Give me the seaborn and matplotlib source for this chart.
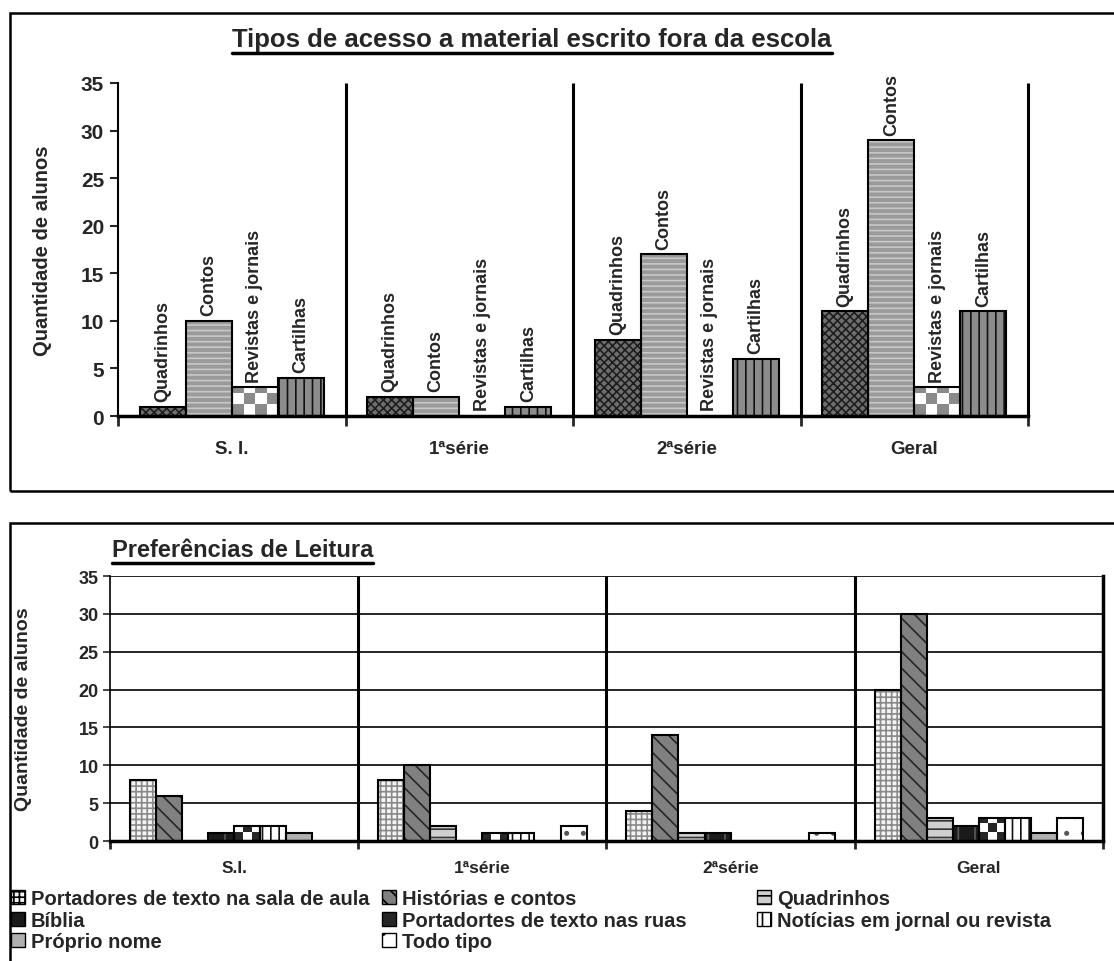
import numpy as np
import pandas as pd
import matplotlib
matplotlib.use('Agg')
import matplotlib.pyplot as plt
import seaborn as sns
from matplotlib.patches import Rectangle, Patch
from matplotlib.lines import Line2D
from matplotlib.colors import ListedColormap

# --- data ---
grupos_top = ['S. I.', '1ªsérie', '2ªsérie', 'Geral']
tipos_top = ['Quadrinhos', 'Contos', 'Revistas e jornais', 'Cartilhas']
quadrinhos_top = [1, 2, 8, 11]
contos_top = [10, 2, 17, 29]
revistas_top = [3, 0, 0, 3]
cartilhas_top = [4, 1, 6, 11]

grupos_bot = ['S.I.', '1ªsérie', '2ªsérie', 'Geral']
tipos_bot = ['Portadores de texto na sala de aula', 'Histórias e contos', 'Quadrinhos',
             'Bíblia', 'Portadortes de texto nas ruas', 'Notícias em jornal ou revista',
             'Próprio nome', 'Todo tipo']
portadores_sala = [8, 8, 4, 20]
historias = [6, 10, 14, 30]
quadrinhos_bot = [0, 2, 1, 3]
biblia = [1, 0, 1, 2]
portadores_ruas = [2, 1, 0, 3]
noticias = [2, 1, 0, 3]
proprio_nome = [1, 0, 0, 1]
todo_tipo = [0, 2, 1, 3]

sns.set_style('white')
plt.rcParams['font.family'] = ['Liberation Sans', 'DejaVu Sans']
plt.rcParams['font.weight'] = 'bold'
plt.rcParams['hatch.linewidth'] = 1.2

fig = plt.figure(figsize=(11.14, 9.62), dpi=100)


def long_table(grupos, tipos, series):
    rows = []
    for tipo, vals in zip(tipos, series):
        for g, v in zip(grupos, vals):
            rows.append({'grupo': g, 'tipo': tipo, 'valor': v})
    return pd.DataFrame(rows)


def style_bars(ax, container, face, hatch, hcolor, lw=1.5):
    for bar in container.patches:
        bar.set_facecolor(face)
        bar.set_hatch(hatch)
        bar.set_edgecolor(hcolor)
        bar.set_linewidth(0)
        if bar.get_height() > 0:
            ax.add_patch(Rectangle((bar.get_x(), bar.get_y()), bar.get_width(), bar.get_height(),
                                   fill=False, ec='black', lw=lw, zorder=bar.get_zorder() + 0.2))


def checker_bars(ax, container, ncols, c1, c2, lw=1.5):
    xl, yl = ax.get_xlim(), ax.get_ylim()
    for bar in container.patches:
        h = bar.get_height()
        bar.set_facecolor('none')
        bar.set_linewidth(0)
        if h <= 0:
            continue
        x0, y0, w = bar.get_x(), bar.get_y(), bar.get_width()
        (px0, py0), (px1, py1) = ax.transData.transform([(x0, y0), (x0 + w, y0 + h)])
        cell = (px1 - px0) / ncols
        nrows = int(np.ceil((py1 - py0) / cell))
        grid = np.indices((nrows, ncols)).sum(axis=0) % 2
        top = ax.transData.inverted().transform((px0, py0 + nrows * cell))[1]
        img = ax.imshow(grid, cmap=ListedColormap([c1, c2]), extent=(x0, x0 + w, y0, top),
                        origin='lower', interpolation='nearest', aspect='auto',
                        zorder=bar.get_zorder())
        img.set_clip_path(bar)
        ax.add_patch(Rectangle((x0, y0), w, h, fill=False, ec='black', lw=lw,
                               zorder=bar.get_zorder() + 0.2))
    ax.set_xlim(xl)
    ax.set_ylim(yl)


def underline(fig, t, lw=2.5):
    fig.canvas.draw()
    bb = t.get_window_extent().transformed(fig.transFigure.inverted())
    y = bb.y0 - 0.002
    fig.add_artist(Line2D([bb.x0, bb.x1], [y, y], transform=fig.transFigure, color='black', lw=lw))


# outer frames
fig.add_artist(Rectangle((0.009, 0.489), 1.2, 0.496, transform=fig.transFigure,
                         fill=False, ec='black', lw=1.8))
fig.add_artist(Rectangle((0.009, -0.2), 1.2, 0.655, transform=fig.transFigure,
                         fill=False, ec='black', lw=1.8))

# --- top chart ---
ax1 = fig.add_axes([0.1059, 0.5665, 0.817, 0.3462])
df_top = long_table(grupos_top, tipos_top, [quadrinhos_top, contos_top, revistas_top, cartilhas_top])
sns.barplot(data=df_top, x='grupo', y='valor', hue='tipo', hue_order=tipos_top, order=grupos_top,
            palette=['#777777'] * 4, width=0.81, saturation=1, legend=False, ax=ax1, errorbar=None)
ax1.set_xlim(-0.5, 3.5)
ax1.set_ylim(0, 35)
style_bars(ax1, ax1.containers[0], '#6e6e6e', 'xxxx', '#1e1e1e')
style_bars(ax1, ax1.containers[1], '#9a9a9a', '---', '#c8c8c8')
checker_bars(ax1, ax1.containers[2], 4, '#8a8a8a', '#ffffff')
style_bars(ax1, ax1.containers[3], '#8c8c8c', '||', '#111111')

for cont, nome in zip(ax1.containers, tipos_top):
    for bar in cont.patches:
        ax1.annotate(nome, (bar.get_x() + bar.get_width() / 2, bar.get_height()),
                     xytext=(0, 4), textcoords='offset points', rotation=90,
                     ha='center', va='bottom', fontsize=13, fontweight='bold')

ax1.vlines([0.5, 1.5, 2.5, 3.5], 0, 35, color='black', lw=2.2, zorder=0.5, clip_on=False)
for s in ['top', 'right']:
    ax1.spines[s].set_visible(False)
ax1.spines['left'].set_linewidth(1.5)
ax1.spines['left'].set_color('black')
ax1.spines['bottom'].set_linewidth(2.5)
ax1.spines['bottom'].set_color('black')
ax1.set_yticks(range(0, 36, 5))
ax1.tick_params(axis='y', direction='out', length=6, width=1.5, labelsize=15, left=True, pad=4)
ax1.set_xticks([-0.5, 0.5, 1.5, 2.5, 3.5], minor=True)
ax1.tick_params(axis='x', which='minor', direction='out', length=7, width=2, bottom=True)
ax1.tick_params(axis='x', which='major', length=0, labelsize=13.5, pad=17)
ax1.set_xlabel('')
ax1.set_ylabel('Quantidade de alunos', fontsize=14.5, fontweight='bold')
ax1.yaxis.set_label_coords(-0.073, 0.5)
for lab in ax1.get_xticklabels() + ax1.get_yticklabels():
    lab.set_fontweight('bold')

t1 = fig.text(0.4776, 0.958, 'Tipos de acesso a material escrito fora da escola',
              ha='center', va='center', fontsize=18.5, fontweight='bold')

# --- bottom chart ---
ax2 = fig.add_axes([0.0987, 0.1247, 0.8914, 0.2755])
serie_bot = [portadores_sala, historias, quadrinhos_bot, biblia, portadores_ruas,
             noticias, proprio_nome, todo_tipo]
df_bot = long_table(grupos_bot, tipos_bot, serie_bot)
sns.barplot(data=df_bot, x='grupo', y='valor', hue='tipo', hue_order=tipos_bot, order=grupos_bot,
            palette=['#777777'] * 8, width=0.84, saturation=1, legend=False, ax=ax2, errorbar=None)
ax2.set_xlim(-0.5, 3.5)
ax2.set_ylim(0, 35)

estilos_bot = [('#f4f4f4', '+++', '#8a8a8a'),
               ('#808080', '\\\\', '#262626'),
               ('#cfcfcf', '--', '#333333'),
               ('#1a1a1a', '|', '#5a5a5a'),
               None,
               ('#ffffff', '||', '#111111'),
               ('#b0b0b0', '', '#b0b0b0'),
               ('#ffffff', '.', '#555555')]
for i, cont in enumerate(ax2.containers):
    if estilos_bot[i] is None:
        checker_bars(ax2, cont, 3, '#262626', '#ffffff', lw=1.5)
    else:
        face, hatch, hc = estilos_bot[i]
        style_bars(ax2, cont, face, hatch, hc)

ax2.set_axisbelow(True)
ax2.set_yticks(range(0, 36, 5))
ax2.grid(axis='y', color='black', lw=1.2)
ax2.vlines([0.5, 1.5, 2.5], 0, 35, color='black', lw=2.2, zorder=0.6)
ax2.spines['top'].set_visible(False)
ax2.spines['right'].set_linewidth(2.5)
ax2.spines['right'].set_color('black')
ax2.spines['left'].set_linewidth(1.2)
ax2.spines['left'].set_color('black')
ax2.spines['bottom'].set_linewidth(2.5)
ax2.spines['bottom'].set_color('black')
ax2.tick_params(axis='y', direction='out', length=5, width=1.2, labelsize=13, left=True, pad=3)
ax2.set_xticks([-0.5, 0.5, 1.5, 2.5, 3.5], minor=True)
ax2.tick_params(axis='x', which='minor', direction='out', length=6, width=2, bottom=True)
ax2.tick_params(axis='x', which='major', length=0, labelsize=12.5, pad=14)
ax2.set_xlabel('')
ax2.set_ylabel('Quantidade de alunos', fontsize=14, fontweight='bold')
ax2.yaxis.set_label_coords(-0.079, 0.5)
for lab in ax2.get_xticklabels() + ax2.get_yticklabels():
    lab.set_fontweight('bold')

t2 = fig.text(0.1005, 0.428, 'Preferências de Leitura', ha='left', va='center',
              fontsize=17, fontweight='bold')

# legend in three columns
handles = []
for i, nome in enumerate(tipos_bot):
    if estilos_bot[i] is None:
        handles.append(Patch(facecolor='#262626', edgecolor='black', label=nome))
    else:
        face, hatch, hc = estilos_bot[i]
        handles.append(Patch(facecolor=face, hatch=hatch, edgecolor='black', label=nome))
colunas = [[0, 3, 6], [1, 4, 7], [2, 5]]
xs = [0.008, 0.341, 0.678]
for col, x in zip(colunas, xs):
    fig.legend(handles=[handles[i] for i in col], loc='upper left', bbox_to_anchor=(x, 0.0765),
               frameon=False, ncol=1, prop={'size': 14.5, 'weight': 'bold'},
               handlelength=0.7, handleheight=0.7, handletextpad=0.3, labelspacing=0.12,
               borderaxespad=0, borderpad=0.1)

underline(fig, t1)
underline(fig, t2)

fig.savefig('out.png', dpi=100)
